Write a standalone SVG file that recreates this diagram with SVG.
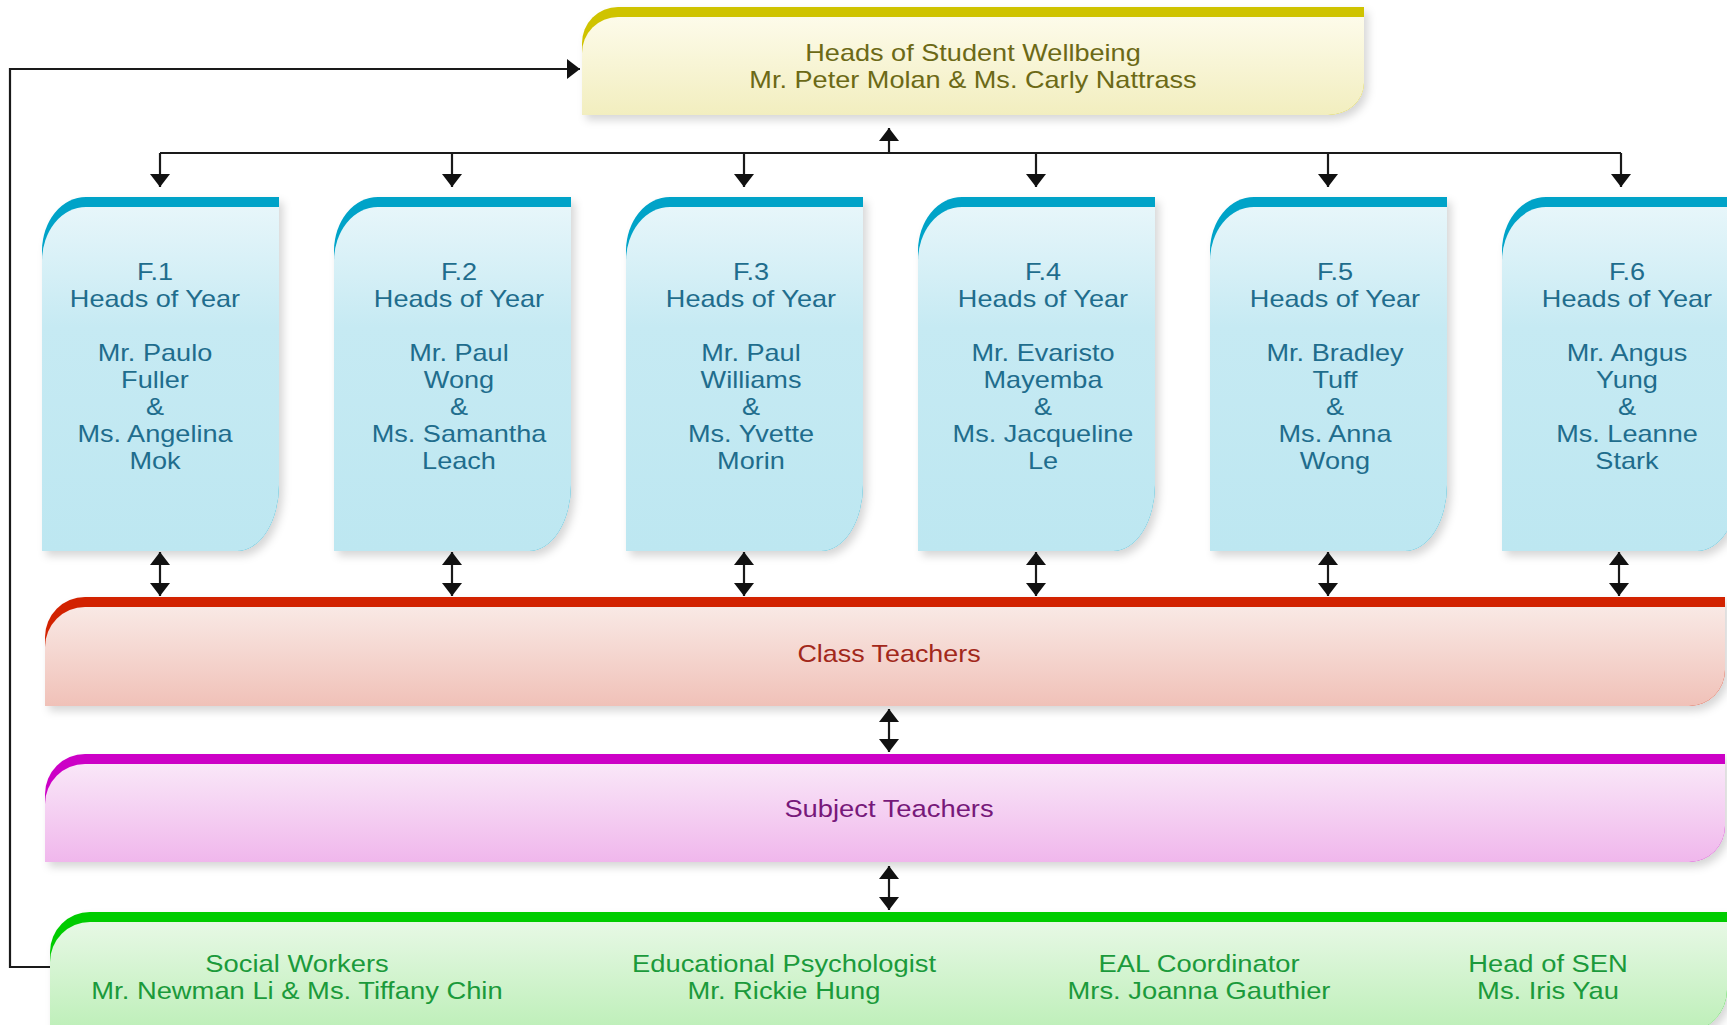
<svg xmlns="http://www.w3.org/2000/svg" xmlns:xlink="http://www.w3.org/1999/xlink" width="1727" height="1025" viewBox="0 0 1727 1025">
<style>
text{font-family:"Liberation Sans",Arial,sans-serif;font-size:24px;text-anchor:middle}
.conn{fill:none;stroke:#1a1a1a;stroke-width:2.2}
.sh{filter:url(#shadow)}
.tY{fill:#6c6916}
.tB{fill:#1f6d8d}
.tR{fill:#a2281b}
.tP{fill:#77197a}
.tG{fill:#1b9a3b}
</style>
<defs>
<filter id="shadow" x="-5%" y="-5%" width="115%" height="125%">
<feDropShadow dx="4" dy="5" stdDeviation="4" flood-color="#000" flood-opacity="0.16"/>
</filter>
<linearGradient id="gY" x1="0" y1="0" x2="0" y2="1"><stop offset="0" stop-color="#fdfbea"/><stop offset="1" stop-color="#f2eebf"/></linearGradient>
<linearGradient id="gB" x1="0" y1="0" x2="0" y2="1"><stop offset="0" stop-color="#e7f6fa"/><stop offset="0.35" stop-color="#c6eaf3"/><stop offset="1" stop-color="#bde7f1"/></linearGradient>
<linearGradient id="gR" x1="0" y1="0" x2="0" y2="1"><stop offset="0" stop-color="#f9e9e5"/><stop offset="1" stop-color="#f0c1b8"/></linearGradient>
<linearGradient id="gP" x1="0" y1="0" x2="0" y2="1"><stop offset="0" stop-color="#f9e7f8"/><stop offset="1" stop-color="#f0b7ec"/></linearGradient>
<linearGradient id="gG" x1="0" y1="0" x2="0" y2="1"><stop offset="0" stop-color="#e7f8e5"/><stop offset="1" stop-color="#bdefb8"/></linearGradient>
<path id="yb" d="M0,251 A44 54 0 0 1 44,197 H237 V485 A42 66 0 0 1 195,551 H0 Z"/>
<path id="yf" d="M0,261 A44 54 0 0 1 44,207 H237 V485 A42 66 0 0 1 195,551 H0 Z"/>
<marker id="ah" markerUnits="userSpaceOnUse" markerWidth="14" markerHeight="20" refX="13" refY="10" orient="auto-start-reverse" viewBox="0 0 14 20">
<path d="M0,0 L13,10 L0,20 Z" fill="#111"/>
</marker>
</defs>
<rect width="1727" height="1025" fill="#fff"/>

<g id="wellbeing">
<path class="sh" fill="#cfc300" d="M582,43 A36 36 0 0 1 618,7 H1364 V83 A36 32 0 0 1 1328,115 H582 Z"/>
<path fill="url(#gY)" d="M582,53 A36 36 0 0 1 618,17 H1364 V83 A36 32 0 0 1 1328,115 H582 Z"/>
<g transform="translate(973 0) scale(1.13 1)" class="tY">
<text x="0" y="61.5">Heads of Student Wellbeing</text>
<text x="0" y="88">Mr. Peter Molan &amp; Ms. Carly Nattrass</text>
</g>
</g>

<g id="f1" transform="translate(42 0)">
<use href="#yb" class="sh" fill="#00a3c8"/><use href="#yf" fill="url(#gB)"/>
<g transform="translate(113 0) scale(1.13 1)" class="tB">
<text x="0" y="280">F.1</text><text x="0" y="307">Heads of Year</text>
<text x="0" y="361">Mr. Paulo</text><text x="0" y="388">Fuller</text><text x="0" y="415">&amp;</text><text x="0" y="442">Ms. Angelina</text><text x="0" y="469">Mok</text>
</g>
</g>
<g id="f2" transform="translate(334 0)">
<use href="#yb" class="sh" fill="#00a3c8"/><use href="#yf" fill="url(#gB)"/>
<g transform="translate(125 0) scale(1.13 1)" class="tB">
<text x="0" y="280">F.2</text><text x="0" y="307">Heads of Year</text>
<text x="0" y="361">Mr. Paul</text><text x="0" y="388">Wong</text><text x="0" y="415">&amp;</text><text x="0" y="442">Ms. Samantha</text><text x="0" y="469">Leach</text>
</g>
</g>
<g id="f3" transform="translate(626 0)">
<use href="#yb" class="sh" fill="#00a3c8"/><use href="#yf" fill="url(#gB)"/>
<g transform="translate(125 0) scale(1.13 1)" class="tB">
<text x="0" y="280">F.3</text><text x="0" y="307">Heads of Year</text>
<text x="0" y="361">Mr. Paul</text><text x="0" y="388">Williams</text><text x="0" y="415">&amp;</text><text x="0" y="442">Ms. Yvette</text><text x="0" y="469">Morin</text>
</g>
</g>
<g id="f4" transform="translate(918 0)">
<use href="#yb" class="sh" fill="#00a3c8"/><use href="#yf" fill="url(#gB)"/>
<g transform="translate(125 0) scale(1.13 1)" class="tB">
<text x="0" y="280">F.4</text><text x="0" y="307">Heads of Year</text>
<text x="0" y="361">Mr. Evaristo</text><text x="0" y="388">Mayemba</text><text x="0" y="415">&amp;</text><text x="0" y="442">Ms. Jacqueline</text><text x="0" y="469">Le</text>
</g>
</g>
<g id="f5" transform="translate(1210 0)">
<use href="#yb" class="sh" fill="#00a3c8"/><use href="#yf" fill="url(#gB)"/>
<g transform="translate(125 0) scale(1.13 1)" class="tB">
<text x="0" y="280">F.5</text><text x="0" y="307">Heads of Year</text>
<text x="0" y="361">Mr. Bradley</text><text x="0" y="388">Tuff</text><text x="0" y="415">&amp;</text><text x="0" y="442">Ms. Anna</text><text x="0" y="469">Wong</text>
</g>
</g>
<g id="f6" transform="translate(1502 0)">
<use href="#yb" class="sh" fill="#00a3c8"/><use href="#yf" fill="url(#gB)"/>
<g transform="translate(125 0) scale(1.13 1)" class="tB">
<text x="0" y="280">F.6</text><text x="0" y="307">Heads of Year</text>
<text x="0" y="361">Mr. Angus</text><text x="0" y="388">Yung</text><text x="0" y="415">&amp;</text><text x="0" y="442">Ms. Leanne</text><text x="0" y="469">Stark</text>
</g>
</g>

<g id="class-teachers">
<path class="sh" fill="#d22200" d="M45,637 A40 40 0 0 1 85,597 H1725 V670 A36 36 0 0 1 1689,706 H45 Z"/>
<path fill="url(#gR)" d="M45,647 A40 40 0 0 1 85,607 H1725 V670 A36 36 0 0 1 1689,706 H45 Z"/>
<g transform="translate(889 0) scale(1.12 1)" class="tR"><text x="0" y="662">Class Teachers</text></g>
</g>

<g id="subject-teachers">
<path class="sh" fill="#cc00c6" d="M45,794 A40 40 0 0 1 85,754 H1725 V826 A36 36 0 0 1 1689,862 H45 Z"/>
<path fill="url(#gP)" d="M45,804 A40 40 0 0 1 85,764 H1725 V826 A36 36 0 0 1 1689,862 H45 Z"/>
<g transform="translate(889 0) scale(1.14 1)" class="tP"><text x="0" y="817">Subject Teachers</text></g>
</g>

<g id="support">
<path class="sh" fill="#00cc00" d="M50,952 A40 40 0 0 1 90,912 H1727 V990 A42 42 0 0 1 1685,1032 H50 Z"/>
<path fill="url(#gG)" d="M50,962 A40 40 0 0 1 90,922 H1727 V990 A42 42 0 0 1 1685,1032 H50 Z"/>
<g class="tG" style="font-size:25px">
<g transform="translate(297 0) scale(1.14 1)"><text x="0" y="972">Social Workers</text><text x="0" y="999">Mr. Newman Li &amp; Ms. Tiffany Chin</text></g>
<g transform="translate(784 0) scale(1.14 1)"><text x="0" y="972">Educational Psychologist</text><text x="0" y="999">Mr. Rickie Hung</text></g>
<g transform="translate(1199 0) scale(1.14 1)"><text x="0" y="972">EAL Coordinator</text><text x="0" y="999">Mrs. Joanna Gauthier</text></g>
<g transform="translate(1548 0) scale(1.14 1)"><text x="0" y="972">Head of SEN</text><text x="0" y="999">Ms. Iris Yau</text></g>
</g>
</g>

<g id="connectors">
<path class="conn" d="M50,967 H10 V69 H580" marker-end="url(#ah)"/>
<path class="conn" d="M889,153 V128" marker-end="url(#ah)"/>
<path class="conn" d="M160,153 H1621"/>
<path class="conn" d="M160,153 V187" marker-end="url(#ah)"/>
<path class="conn" d="M452,153 V187" marker-end="url(#ah)"/>
<path class="conn" d="M744,153 V187" marker-end="url(#ah)"/>
<path class="conn" d="M1036,153 V187" marker-end="url(#ah)"/>
<path class="conn" d="M1328,153 V187" marker-end="url(#ah)"/>
<path class="conn" d="M1621,153 V187" marker-end="url(#ah)"/>
<path class="conn" d="M160,552 V596" marker-start="url(#ah)" marker-end="url(#ah)"/>
<path class="conn" d="M452,552 V596" marker-start="url(#ah)" marker-end="url(#ah)"/>
<path class="conn" d="M744,552 V596" marker-start="url(#ah)" marker-end="url(#ah)"/>
<path class="conn" d="M1036,552 V596" marker-start="url(#ah)" marker-end="url(#ah)"/>
<path class="conn" d="M1328,552 V596" marker-start="url(#ah)" marker-end="url(#ah)"/>
<path class="conn" d="M1619,552 V596" marker-start="url(#ah)" marker-end="url(#ah)"/>
<path class="conn" d="M889,709 V752" marker-start="url(#ah)" marker-end="url(#ah)"/>
<path class="conn" d="M889,866 V910" marker-start="url(#ah)" marker-end="url(#ah)"/>
</g>
</svg>
